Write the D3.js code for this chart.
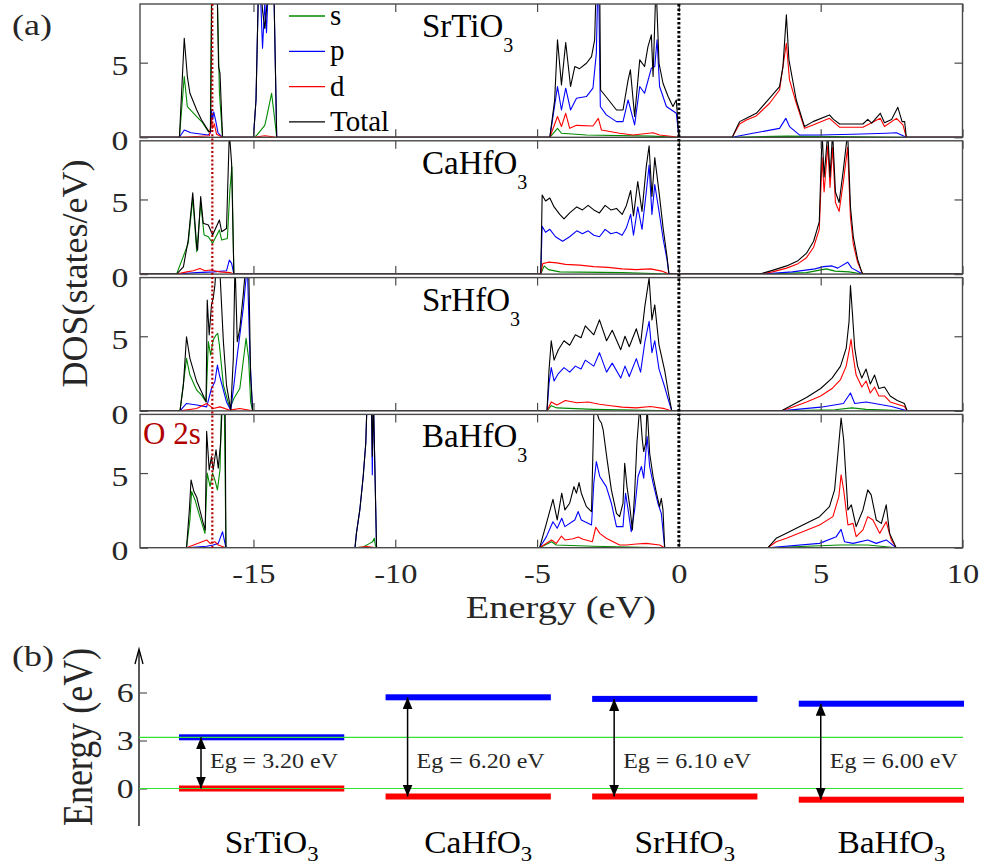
<!DOCTYPE html>
<html>
<head>
<meta charset="utf-8">
<script src="https://cdn.jsdelivr.net/npm/d3@7"></script>
<style>
  html, body { margin: 0; padding: 0; background: #fff; }
  svg { display: block; }
</style>
</head>
<body>
<svg id="fig" width="987" height="865"></svg>
<script>
// ---------------------------------------------------------------------------
// Data: projected densities of states, [energy (eV), DOS (states/eV)]
// ---------------------------------------------------------------------------
const compounds = ["SrTiO3", "CaHfO3", "SrHfO3", "BaHfO3"];
const orbitals = ["s", "p", "d", "Total"];

const SrTiO3_s = [
  [-17.61,0],[-17.44,4.07],[-17.33,2.05],[-17.0,1.38],[-16.8,1.0],[-16.59,0.38],[-16.52,0.4],[-16.47,12],[-16.3,12],[-16.2,3.0],[-16.09,0],
  [-15.0,0],[-14.9,0.1],[-14.6,0.8],[-14.54,1.3],[-14.36,2.95],[-14.25,1.2],[-14.18,0],
  [-4.55,0],[-4.28,0.6],[-4.14,0.27],[-3.26,0.15],[-1.0,0.08],[0.0,0],
  [1.88,0],[3.8,0.08],[8.02,0]
];
const SrTiO3_p = [
  [-17.61,0],[-17.44,0.49],[-17.2,0.3],[-16.6,0.15],[-16.52,0.3],[-16.48,1.83],[-16.44,1.2],[-16.4,1.7],[-16.33,1.1],[-16.25,0.3],[-16.09,0],
  [-15.0,0],[-14.91,2.5],[-14.8,12],[-14.68,5.97],[-14.6,9],[-14.54,7.0],[-14.44,12],[-14.3,12],[-14.18,0],
  [-4.55,0],[-4.28,3.4],[-4.14,1.83],[-3.99,3.29],[-3.82,1.83],[-3.61,2.62],[-3.26,2.73],[-3.03,3.29],[-2.91,5.64],[-2.84,12],[-2.77,2.06],[-2.56,1.5],[-2.2,1.05],[-1.97,1.05],[-1.79,2.5],[-1.56,0.83],[-1.38,3.4],[-1.21,2.95],[-0.97,4.63],[-0.85,4.74],[-0.77,6.53],[-0.68,3.4],[-0.44,2.06],[-0.09,1.61],[0.0,0],
  [1.88,0],[2.61,0.27],[3.55,0.6],[3.77,1.27],[3.9,0.72],[4.26,0.15],[4.96,0.15],[6.14,0.2],[7.31,0.27],[7.67,0.3],[8.02,0]
];
const SrTiO3_d = [
  [-17.61,0],[-17.0,0.05],[-16.55,0.1],[-16.48,1.27],[-16.44,0.6],[-16.38,0.9],[-16.3,0.2],[-16.09,0],
  [-15.0,0],[-14.6,0.1],[-14.18,0],
  [-4.55,0],[-4.28,1.39],[-4.14,0.72],[-3.99,1.61],[-3.85,0.6],[-3.61,0.8],[-3.03,0.76],[-2.84,1.27],[-2.73,0.49],[-2.09,0.27],[-1.62,0.15],[-0.91,0.3],[-0.68,0.15],[0.0,0],
  [1.88,0],[2.14,0.89],[2.38,1.16],[2.73,1.43],[3.2,2.28],[3.55,3.17],[3.79,6.3],[3.9,3.85],[4.14,2.28],[4.43,0.6],[4.73,0.83],[5.31,1.27],[5.67,0.67],[6.49,0.67],[7.1,1.27],[7.25,0.72],[7.67,1.27],[7.9,0.83],[8.02,0]
];
const SrTiO3_Total = [
  [-17.61,0],[-17.44,6.64],[-17.33,4.07],[-17.24,2.95],[-17.0,1.83],[-16.83,1.16],[-16.57,0.38],[-16.51,0.4],[-16.46,12],[-16.3,12],[-16.23,4.74],[-16.18,4.3],[-16.09,0],
  [-15.0,0],[-14.91,2.5],[-14.8,12],[-14.68,8.5],[-14.6,7.3],[-14.54,8.5],[-14.44,12],[-14.3,12],[-14.18,0],
  [-4.55,0],[-4.38,2.5],[-4.28,6.53],[-4.14,3.51],[-3.99,6.35],[-3.82,3.4],[-3.67,4.74],[-3.5,4.6],[-3.26,4.96],[-3.08,5.41],[-2.97,6.53],[-2.89,12],[-2.8,12],[-2.76,3.17],[-2.56,2.7],[-2.2,1.83],[-1.97,1.83],[-1.79,3.85],[-1.71,4.52],[-1.56,1.39],[-1.38,5.19],[-1.21,4.74],[-1.09,6.08],[-0.97,6.86],[-0.91,4.07],[-0.82,9.5],[-0.78,9.0],[-0.7,4.96],[-0.56,3.62],[-0.38,2.73],[-0.21,2.06],[-0.09,2.5],[0.0,0],
  [1.88,0],[2.14,1.05],[2.38,1.27],[2.73,1.61],[3.2,2.62],[3.55,3.4],[3.67,4.74],[3.79,8.2],[3.88,5.19],[4.14,2.5],[4.43,0.72],[4.73,1.05],[5.31,1.5],[5.45,1.2],[5.67,0.89],[6.49,0.89],[6.66,1.2],[6.8,0.95],[7.1,1.61],[7.25,0.98],[7.5,1.2],[7.72,2.01],[7.87,1.05],[7.96,1.05],[8.02,0]
];

const CaHfO3_s = [
  [-17.71,0],[-17.3,2.06],[-17.14,5.08],[-17.0,1.5],[-16.86,4.74],[-16.74,2.62],[-16.59,2.5],[-16.44,2.06],[-16.2,2.95],[-16.12,2.28],[-15.92,2.39],[-15.83,5.64],[-15.76,7.2],[-15.69,0],
  [-4.87,0],[-4.75,0.55],[-4.6,0.3],[-4.2,0.15],[-2.0,0.1],[-0.35,0],
  [2.85,0],[4.5,0.1],[5.2,0.35],[5.5,0.2],[6.0,0.15],[6.48,0]
];
const CaHfO3_p = [
  [-17.71,0],[-17.0,0.1],[-16.4,0.15],[-15.95,0.22],[-15.85,0.94],[-15.77,0.72],[-15.69,0],
  [-4.87,0],[-4.82,3.2],[-4.7,2.8],[-4.55,3.0],[-4.35,2.5],[-4.1,2.2],[-3.85,2.5],[-3.6,2.9],[-3.4,2.7],[-3.2,2.9],[-3.0,2.6],[-2.8,2.5],[-2.6,3.0],[-2.4,2.7],[-2.2,2.8],[-2.0,2.6],[-1.85,3.1],[-1.7,4.0],[-1.6,2.6],[-1.45,4.5],[-1.3,3.0],[-1.15,5.5],[-1.05,7.3],[-0.95,4.0],[-0.85,6.0],[-0.7,4.2],[-0.55,2.3],[-0.42,1.0],[-0.35,0],
  [2.85,0],[4.0,0.15],[4.8,0.35],[5.1,0.5],[5.4,0.55],[5.6,0.4],[5.95,0.8],[6.1,0.4],[6.48,0]
];
const CaHfO3_d = [
  [-17.71,0],[-17.35,0.15],[-17.12,0.22],[-16.89,0.38],[-16.71,0.22],[-16.53,0.27],[-16.18,0.15],[-15.83,0.1],[-15.69,0],
  [-4.87,0],[-4.8,0.7],[-4.6,0.8],[-4.3,0.75],[-4.0,0.65],[-3.5,0.6],[-3.0,0.5],[-2.5,0.45],[-2.0,0.35],[-1.5,0.3],[-1.0,0.35],[-0.6,0.2],[-0.35,0],
  [2.85,0],[3.3,0.15],[3.8,0.4],[4.2,0.7],[4.5,1.1],[4.75,1.8],[4.95,3.0],[5.05,7.8],[5.12,5.5],[5.25,8.6],[5.33,5.8],[5.42,8.5],[5.52,4.8],[5.65,4.2],[5.8,6.2],[5.95,8.5],[6.05,3.8],[6.15,2.0],[6.3,0.8],[6.42,0.25],[6.48,0]
];
const CaHfO3_Total = [
  [-17.71,0],[-17.47,0.49],[-17.3,2.28],[-17.14,5.45],[-17.0,1.83],[-16.97,1.6],[-16.86,5.19],[-16.77,3.4],[-16.59,3.29],[-16.44,2.62],[-16.2,3.62],[-16.12,2.84],[-15.95,3.06],[-15.85,9.5],[-15.77,7.42],[-15.69,0],
  [-4.87,0],[-4.82,5.3],[-4.7,4.9],[-4.55,5.1],[-4.4,4.5],[-4.2,4.0],[-4.05,3.7],[-3.85,4.1],[-3.6,4.5],[-3.4,4.3],[-3.2,4.6],[-3.0,4.3],[-2.8,4.1],[-2.6,4.6],[-2.4,4.3],[-2.2,4.4],[-2.0,4.0],[-1.85,4.6],[-1.7,5.6],[-1.6,3.9],[-1.45,6.2],[-1.3,4.2],[-1.15,7.2],[-1.05,8.6],[-0.95,5.2],[-0.85,7.8],[-0.7,5.5],[-0.55,3.0],[-0.42,1.2],[-0.35,0],
  [2.85,0],[3.3,0.25],[3.8,0.55],[4.2,0.9],[4.5,1.4],[4.75,2.2],[4.95,3.5],[5.05,9.5],[5.12,6.5],[5.25,9.5],[5.33,6.5],[5.42,9.5],[5.52,5.5],[5.65,4.8],[5.8,7.0],[5.95,9.5],[6.05,4.5],[6.15,2.5],[6.3,1.0],[6.42,0.3],[6.48,0]
];

const SrHfO3_s = [
  [-17.59,0],[-17.36,3.52],[-17.24,2.4],[-17.0,1.39],[-16.83,1.06],[-16.67,0.6],[-16.59,4.64],[-16.51,3.74],[-16.42,4.75],[-16.32,5.08],[-16.26,5.2],[-16.2,4.4],[-16.06,1.73],[-15.83,0.16],[-15.69,0.83],[-15.48,1.5],[-15.26,4.86],[-15.17,3.52],[-15.1,0.6],[-15.03,0],
  [-4.65,0],[-4.5,0.35],[-4.3,0.2],[-3.0,0.1],[-0.25,0],
  [3.6,0],[5.5,0.08],[6.1,0.2],[6.6,0.1],[8.05,0]
];
const SrHfO3_p = [
  [-17.59,0],[-17.36,0.5],[-17.0,0.39],[-16.65,0.27],[-16.48,1.5],[-16.36,1.95],[-16.27,3.07],[-16.2,2.4],[-15.95,0.6],[-15.8,0.05],[-15.69,1.73],[-15.57,3.74],[-15.45,5.53],[-15.36,6.87],[-15.26,8.9],[-15.22,10],[-15.12,3.52],[-15.03,0],
  [-4.65,0],[-4.58,1.8],[-4.5,2.9],[-4.4,2.0],[-4.25,2.5],[-4.05,2.9],[-3.85,2.6],[-3.65,3.0],[-3.45,2.8],[-3.3,3.4],[-3.0,3.0],[-2.8,3.9],[-2.55,2.6],[-2.35,3.2],[-2.05,2.2],[-1.9,3.0],[-1.75,2.3],[-1.5,3.5],[-1.35,2.6],[-1.2,4.6],[-1.05,6.0],[-0.95,3.9],[-0.85,4.7],[-0.7,2.8],[-0.5,1.6],[-0.35,0.6],[-0.25,0],
  [3.6,0],[5.0,0.25],[5.8,0.5],[6.05,1.2],[6.2,0.5],[6.6,0.6],[6.9,0.5],[7.5,0.3],[8.05,0]
];
const SrHfO3_d = [
  [-17.59,0],[-17.0,0.16],[-16.65,0.5],[-16.42,0.16],[-16.18,0.27],[-15.83,0.05],[-15.48,0.16],[-15.03,0],
  [-4.65,0],[-4.5,0.6],[-4.3,0.4],[-4.0,0.7],[-3.6,0.55],[-3.2,0.6],[-2.8,0.45],[-2.4,0.35],[-2.0,0.25],[-1.5,0.2],[-1.0,0.3],[-0.5,0.15],[-0.25,0],
  [3.6,0],[4.0,0.25],[4.5,0.6],[5.0,1.0],[5.4,1.5],[5.7,2.1],[5.9,3.0],[6.0,4.0],[6.07,4.8],[6.15,3.6],[6.25,2.4],[6.45,1.6],[6.6,2.0],[6.75,1.2],[6.9,1.6],[7.05,1.0],[7.25,1.0],[7.45,0.6],[7.7,0.45],[7.95,0.3],[8.05,0]
];
const SrHfO3_Total = [
  [-17.59,0],[-17.47,1.73],[-17.36,4.97],[-17.24,3.52],[-17.0,1.95],[-16.83,1.28],[-16.67,0.61],[-16.63,7.43],[-16.56,5.08],[-16.48,7.1],[-16.42,7.54],[-16.36,8.4],[-16.3,10],[-16.2,10],[-16.06,4.64],[-15.95,1.73],[-15.8,0.05],[-15.71,3.52],[-15.65,10],[-15.57,4.64],[-15.48,5.53],[-15.36,7.77],[-15.26,10],[-15.17,10],[-15.1,2.4],[-15.03,0],
  [-4.65,0],[-4.58,2.7],[-4.5,4.7],[-4.4,3.4],[-4.25,4.1],[-4.05,4.7],[-3.85,4.4],[-3.65,5.1],[-3.45,4.9],[-3.3,5.7],[-3.0,5.1],[-2.8,6.1],[-2.55,4.7],[-2.35,5.4],[-2.05,4.1],[-1.9,5.0],[-1.75,4.3],[-1.5,5.5],[-1.35,4.5],[-1.2,7.0],[-1.05,8.9],[-0.95,6.1],[-0.85,7.1],[-0.7,4.4],[-0.5,2.7],[-0.35,1.0],[-0.25,0],
  [3.6,0],[4.0,0.4],[4.5,0.9],[5.0,1.5],[5.4,2.2],[5.7,3.0],[5.9,4.2],[6.0,6.0],[6.05,8.4],[6.12,6.5],[6.2,4.2],[6.3,3.0],[6.45,2.2],[6.6,2.8],[6.75,1.8],[6.9,2.4],[7.05,1.5],[7.25,1.6],[7.45,1.0],[7.7,0.7],[7.95,0.5],[8.05,0]
];

const BaHfO3_s = [
  [-17.36,0],[-17.24,1.86],[-17.18,3.76],[-17.06,3.2],[-16.89,2.08],[-16.71,0.96],[-16.63,5.0],[-16.53,4.1],[-16.44,5.0],[-16.36,4.54],[-16.27,3.87],[-16.18,5.21],[-16.12,10],[-16.03,10],[-15.97,0],
  [-11.42,0],[-11.13,0.05],[-10.9,0.29],[-10.8,0.4],[-10.74,0.63],[-10.7,0.15],[-10.66,0],
  [-4.91,0],[-4.49,0.4],[-4.32,0.18],[-3.03,0.1],[-0.5,0],
  [3.14,0],[5.67,0.18],[6.66,0.18],[7.66,0]
];
const BaHfO3_p = [
  [-17.36,0],[-16.65,0.1],[-16.42,0.18],[-16.24,0.29],[-16.09,1.07],[-16.03,0.52],[-15.97,0],
  [-11.42,0],[-11.37,0.96],[-11.25,2.53],[-11.13,4.77],[-11.04,7.0],[-10.99,10],[-10.84,10],[-10.81,4.88],[-10.77,10],[-10.66,0],
  [-4.91,0],[-4.67,0.74],[-4.44,1.74],[-4.29,1.3],[-4.13,1.97],[-4.02,1.41],[-3.67,1.86],[-3.55,2.42],[-3.44,1.86],[-3.08,1.52],[-3.0,4.32],[-2.91,5.77],[-2.79,4.77],[-2.56,4.09],[-2.38,2.98],[-2.2,1.41],[-1.97,1.41],[-1.88,3.65],[-1.79,2.53],[-1.68,1.07],[-1.56,2.53],[-1.44,4.77],[-1.32,5.44],[-1.24,4.66],[-1.12,7.45],[-1.03,5.44],[-0.91,4.32],[-0.74,2.98],[-0.62,2.3],[-0.5,0],
  [3.14,0],[4.96,0.29],[5.55,0.74],[5.72,1.23],[5.84,0.4],[6.14,0.29],[6.66,0.52],[6.96,0.29],[7.31,0.52],[7.66,0]
];
const BaHfO3_d = [
  [-17.36,0],[-16.65,0.52],[-16.53,0.29],[-16.36,0.4],[-16.24,0.18],[-15.97,0],
  [-11.42,0],[-11.0,0.07],[-10.66,0],
  [-4.91,0],[-4.49,0.52],[-4.32,0.29],[-4.14,0.78],[-4.02,0.52],[-3.73,0.6],[-3.55,0.72],[-3.38,0.56],[-3.05,0.4],[-2.93,1.37],[-2.79,0.96],[-2.56,0.63],[-2.09,0.18],[-1.85,0.18],[-1.5,0.25],[-1.15,0.29],[-0.68,0.18],[-0.5,0],
  [3.14,0],[3.43,0.4],[3.79,0.63],[4.96,1.52],[5.43,2.08],[5.64,3.42],[5.72,4.88],[5.81,3.87],[5.96,1.52],[6.14,1.63],[6.25,0.74],[6.49,1.19],[6.66,2.08],[6.84,1.86],[7.08,0.96],[7.31,1.74],[7.49,0.52],[7.66,0]
];
const BaHfO3_Total = [
  [-17.36,0],[-17.26,2.53],[-17.2,4.54],[-17.1,3.76],[-17.0,3.38],[-16.89,2.53],[-16.77,1.63],[-16.7,1.19],[-16.65,7.79],[-16.56,5.21],[-16.48,6.11],[-16.42,5.21],[-16.32,6.56],[-16.24,5.33],[-16.16,7.0],[-16.09,10],[-16.0,10],[-15.97,0],
  [-11.42,0],[-11.37,0.96],[-11.25,2.53],[-11.13,4.77],[-11.04,7.0],[-10.99,10],[-10.84,10],[-10.81,6.11],[-10.77,10],[-10.66,0],
  [-4.91,0],[-4.67,1.63],[-4.44,3.24],[-4.29,1.86],[-4.13,3.65],[-4.02,2.53],[-3.85,2.98],[-3.7,4.09],[-3.61,3.65],[-3.52,4.36],[-3.44,3.65],[-3.26,2.75],[-3.08,2.42],[-3.0,8.9],[-2.97,9.5],[-2.81,8.57],[-2.73,8.35],[-2.67,7.9],[-2.53,5.88],[-2.38,3.87],[-2.2,2.3],[-2.09,2.08],[-1.97,2.98],[-1.91,5.66],[-1.83,4.09],[-1.73,2.75],[-1.64,1.19],[-1.56,3.65],[-1.48,7.0],[-1.38,9.5],[-1.29,7.23],[-1.24,6.44],[-1.17,7.0],[-1.12,9.5],[-1.03,6.33],[-0.91,4.77],[-0.79,3.65],[-0.68,2.75],[-0.62,3.31],[-0.56,2.53],[-0.5,0],
  [3.14,0],[3.43,0.63],[3.79,0.96],[4.37,1.52],[4.96,2.08],[5.31,2.75],[5.49,3.87],[5.64,7.0],[5.72,8.68],[5.81,7.23],[5.96,2.53],[6.08,2.87],[6.25,1.41],[6.49,2.53],[6.66,3.87],[6.78,3.54],[6.96,1.86],[7.14,1.63],[7.31,2.87],[7.43,0.96],[7.66,0]
];

// Axis ticks and reference energies for panel (a)
const energyTicks = [-15, -10, -5, 0, 5, 10];
const dosTicks = [0, 5];
const o2sEnergy = -16.45;   // O 2s reference level
const fermiEnergy = 0;      // valence band maximum

// Band edges for panel (b), eV
const vbmLevels = [0.0, -0.5, -0.5, -0.7];
const bandGaps = [3.20, 6.20, 6.10, 6.00];
const levelTicks = [0, 3, 6];

// ---------------------------------------------------------------------------
const dosBy = {
  SrTiO3: [SrTiO3_s, SrTiO3_p, SrTiO3_d, SrTiO3_Total],
  CaHfO3: [CaHfO3_s, CaHfO3_p, CaHfO3_d, CaHfO3_Total],
  SrHfO3: [SrHfO3_s, SrHfO3_p, SrHfO3_d, SrHfO3_Total],
  BaHfO3: [BaHfO3_s, BaHfO3_p, BaHfO3_d, BaHfO3_Total]
};
const orbitalColor = { s: "#008a00", p: "#0000ff", d: "#ff0000", Total: "#000000" };
const INK = "#262626";
const FONT = "'Liberation Serif', 'Times New Roman', Times, 'Nimbus Roman', serif";

const svg = d3.select("#fig");

// Text helper: optional horizontal stretch and rotation
function addText(parent, x, y, str, size, o = {}) {
  let tf = `translate(${x},${y})`;
  if (o.sx) tf += ` scale(${o.sx},1)`;
  if (o.rotate) tf += ` rotate(${o.rotate})`;
  return parent.append("text")
    .attr("transform", tf)
    .attr("font-family", FONT)
    .attr("font-size", size)
    .attr("text-anchor", o.anchor || "start")
    .attr("fill", o.fill || INK)
    .text(str);
}
// Chemical formula with a subscript trailing digit
function addFormula(parent, x, y, name, size, subSize, subDy, o = {}) {
  const m = name.match(/^(.*?)(\d+)$/);
  let tf = `translate(${x},${y})`;
  if (o.sx) tf += ` scale(${o.sx},1)`;
  const t = parent.append("text")
    .attr("transform", tf)
    .attr("font-family", FONT)
    .attr("font-size", size)
    .attr("text-anchor", o.anchor || "start")
    .attr("fill", o.fill || "#000");
  t.append("tspan").text(m[1]);
  t.append("tspan").attr("font-size", subSize).attr("dy", subDy).text(m[2]);
  return t;
}

// ---------------------------------------------------------------------------
// Panel (a): stacked DOS plots
// ---------------------------------------------------------------------------
const xLeft = 140, xRight = 962.5;
const panelTop0 = 4, panelStep = 136.8, panelH = 133.3;
const x = d3.scaleLinear().domain([-19, 10]).range([xLeft, xRight]);
const dosMax = 8.93;

const line = d3.line().x(d => x(d[0]));
const defs = svg.append("defs");

compounds.forEach((name, i) => {
  const top = panelTop0 + i * panelStep;
  const y = d3.scaleLinear().domain([0, dosMax]).range([top + panelH, top]);
  const g = svg.append("g");

  defs.append("clipPath").attr("id", `clip${i}`)
    .append("rect").attr("x", xLeft).attr("y", top)
    .attr("width", xRight - xLeft).attr("height", panelH);

  const curves = g.append("g").attr("clip-path", `url(#clip${i})`);
  const dom = x.domain();
  orbitals.forEach((orb, k) => {
    const pts = [[dom[0], 0], ...dosBy[name][k], [dom[1], 0]];
    curves.append("path")
      .attr("d", line.y(d => y(d[1]))(pts))
      .attr("fill", "none")
      .attr("stroke", orbitalColor[orb])
      .attr("stroke-width", 1.1)
      .attr("stroke-linejoin", "round");
  });

  // frame
  g.append("rect").attr("x", xLeft).attr("y", top)
    .attr("width", xRight - xLeft).attr("height", panelH)
    .attr("fill", "none").attr("stroke", "#4a4a4a").attr("stroke-width", 1.4);

  // inward ticks on all four sides
  const isLast = i === compounds.length - 1;
  const axB = g.append("g").attr("transform", `translate(0,${top + panelH})`)
    .call(d3.axisBottom(x).tickValues(energyTicks).tickSizeInner(-8).tickSizeOuter(0)
      .tickPadding(16).tickFormat(d => isLast ? String(d) : ""));
  const axT = g.append("g").attr("transform", `translate(0,${top})`)
    .call(d3.axisTop(x).tickValues(energyTicks).tickSizeInner(-8).tickSizeOuter(0).tickFormat(""));
  const axL = g.append("g").attr("transform", `translate(${xLeft},0)`)
    .call(d3.axisLeft(y).tickValues(dosTicks).tickSizeInner(-8).tickSizeOuter(0)
      .tickPadding(20).tickFormat(d3.format("d")));
  const axR = g.append("g").attr("transform", `translate(${xRight},0)`)
    .call(d3.axisRight(y).tickValues(dosTicks).tickSizeInner(-8).tickSizeOuter(0).tickFormat(""));
  [axB, axT, axL, axR].forEach(a => {
    a.attr("font-family", FONT).attr("font-size", 27);
    a.select(".domain").remove();
    a.selectAll(".tick line").attr("stroke", "#4a4a4a").attr("stroke-width", 1.2);
    a.selectAll("text").attr("font-family", FONT).attr("font-size", 27).attr("fill", INK);
  });
  axL.selectAll("text").attr("text-anchor", "middle").attr("dy", "0.45em")
    .attr("transform", "scale(1.25,1)").attr("x", -16);
  axB.selectAll("text").attr("transform", "scale(1.2,1)");

  // compound title
  addFormula(g, 422, top + 33, name, 33, 20, 15);
});

// reference verticals spanning all panels
const yTopAll = panelTop0, yBotAll = panelTop0 + 3 * panelStep + panelH;
svg.append("line")
  .attr("x1", x(o2sEnergy)).attr("x2", x(o2sEnergy))
  .attr("y1", yTopAll).attr("y2", yBotAll)
  .attr("stroke", "#b40000").attr("stroke-width", 2.2).attr("stroke-dasharray", "2,2.2");
svg.append("line")
  .attr("x1", x(fermiEnergy)).attr("x2", x(fermiEnergy))
  .attr("y1", yTopAll).attr("y2", yBotAll)
  .attr("stroke", "#000").attr("stroke-width", 3).attr("stroke-dasharray", "2.5,2");

// legend in the first panel
const leg = svg.append("g");
orbitals.forEach((orb, k) => {
  const ly = 16 + k * 35.3;
  leg.append("line").attr("x1", 289).attr("x2", 325).attr("y1", ly).attr("y2", ly)
    .attr("stroke", orbitalColor[orb]).attr("stroke-width", 1.3);
  addText(leg, 330, ly + 9, orb, 29, { fill: "#000" });
});

// O 2s label
addText(svg, 143, 444, "O 2s", 31, { fill: "#b00000" });

// axis titles and panel letters
addText(svg, 561, 618, "Energy (eV)", 31, { anchor: "middle", sx: 1.24 });
addText(svg, 87, 273.5, "DOS(states/eV)", 36, { anchor: "middle", rotate: -90 });
addText(svg, 12, 35, "(a)", 30, { sx: 1.2 });
addText(svg, 12, 666, "(b)", 30, { sx: 1.2 });

// ---------------------------------------------------------------------------
// Panel (b): band edge alignment
// ---------------------------------------------------------------------------
const yb = d3.scaleLinear().domain([0, 6]).range([788.5, 692.5]);
const band = d3.scaleBand().domain(compounds).range([179, 964]).paddingInner(0.2).paddingOuter(0);
const axisX = 139;
const gb = svg.append("g");

// vertical axis with arrow
gb.append("line").attr("x1", axisX).attr("x2", axisX).attr("y1", 826).attr("y2", 650)
  .attr("stroke", "#000").attr("stroke-width", 1.3);
gb.append("path").attr("d", `M${axisX - 4},${664} L${axisX},${649} L${axisX + 4},${664}`)
  .attr("fill", "none").attr("stroke", "#000").attr("stroke-width", 1.3);
const axb = gb.append("g").attr("transform", `translate(${axisX},0)`)
  .call(d3.axisLeft(yb).tickValues(levelTicks).tickSizeInner(-8).tickSizeOuter(0)
    .tickPadding(11).tickFormat(d3.format("d")));
axb.attr("font-family", FONT);
axb.select(".domain").remove();
axb.selectAll(".tick line").attr("stroke", "#555").attr("stroke-width", 1.2);
axb.selectAll("text").attr("font-family", FONT).attr("font-size", 27).attr("fill", INK)
  .attr("text-anchor", "middle").attr("x", -11).attr("dy", "0.35em")
  .attr("transform", "scale(1.25,1)");

addText(gb, 92, 737, "Energy (eV)", 36, { anchor: "middle", rotate: -90, sx: 1.15 });

const bandData = compounds.map((c, i) => ({
  name: c, vbm: vbmLevels[i], gap: bandGaps[i], cbm: vbmLevels[i] + bandGaps[i]
}));

// bars
gb.selectAll("rect.vbm").data(bandData).join("rect").attr("class", "vbm")
  .attr("x", d => band(d.name)).attr("width", band.bandwidth())
  .attr("y", d => yb(d.vbm) - 3).attr("height", 6).attr("fill", "#ff0000");
gb.selectAll("rect.cbm").data(bandData).join("rect").attr("class", "cbm")
  .attr("x", d => band(d.name)).attr("width", band.bandwidth())
  .attr("y", d => yb(d.cbm) - 3).attr("height", 6).attr("fill", "#0000ff");

// reference lines at the first compound's band edges
const ref = bandData[0];
[ref.cbm, ref.vbm].forEach(v => {
  gb.append("line").attr("x1", axisX).attr("x2", 963)
    .attr("y1", yb(v)).attr("y2", yb(v))
    .attr("stroke", "#33e033").attr("stroke-width", 1.2);
});

// double-headed gap arrows
defs.append("marker").attr("id", "head").attr("viewBox", "0 0 12 10")
  .attr("refX", 12).attr("refY", 5).attr("markerWidth", 12).attr("markerHeight", 10)
  .attr("markerUnits", "userSpaceOnUse").attr("orient", "auto-start-reverse")
  .append("path").attr("d", "M0,0 L12,5 L0,10 Z").attr("fill", "#000");

gb.selectAll("line.gap").data(bandData).join("line").attr("class", "gap")
  .attr("x1", d => band(d.name) + 22).attr("x2", d => band(d.name) + 22)
  .attr("y1", d => yb(d.vbm)).attr("y2", d => yb(d.cbm))
  .attr("stroke", "#000").attr("stroke-width", 1.5)
  .attr("marker-start", "url(#head)").attr("marker-end", "url(#head)");

const fmt = d3.format(".2f");
bandData.forEach(d => {
  addText(gb, band(d.name) + 31, 768, `Eg = ${fmt(d.gap)} eV`, 22, { sx: 1.09 });
  addFormula(gb, band(d.name) + band.bandwidth() / 2 + 10, 853, d.name, 31, 21, 8,
    { anchor: "middle", sx: 1.08 });
});
</script>
</body>
</html>
